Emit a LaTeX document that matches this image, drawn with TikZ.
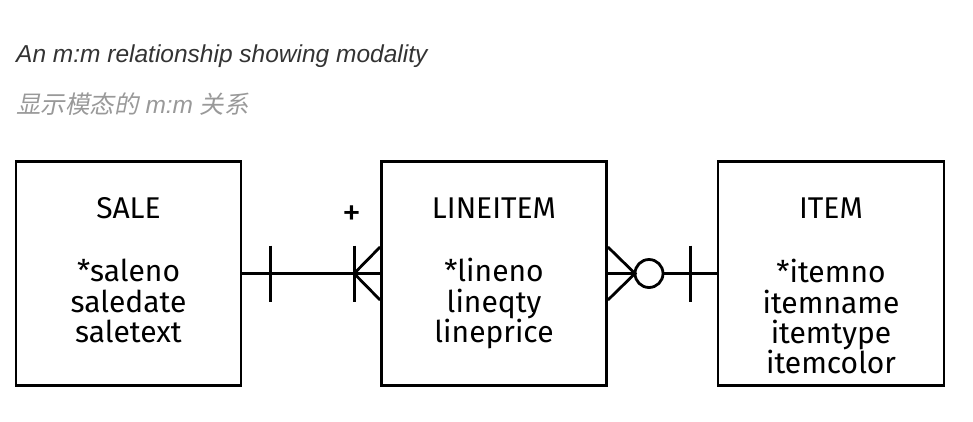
\documentclass[tikz,border=0pt]{standalone}
\usepackage{fontspec}
\setmainfont{Fira Sans}
\newfontfamily\titlefont{Liberation Sans}
\newfontfamily\cjkfont[FakeSlant=0.2]{Noto Sans CJK SC}
\definecolor{titlegray}{HTML}{333333}
\definecolor{subgray}{HTML}{999999}
\begin{document}
\begin{tikzpicture}[x=1pt,y=-1pt,
  entity/.style={draw, line width=2.8pt, minimum width=225pt, minimum height=224pt, inner sep=0pt},
  etitle/.style={anchor=base, font=\fontsize{30}{30}\selectfont, inner sep=0pt},
  attr/.style={anchor=base, font=\fontsize{30}{30}\selectfont, inner sep=0pt},
  conn/.style={line width=2.8pt},
]
\useasboundingbox (0,0) rectangle (973,421);
% captions
\node[anchor=base west, inner sep=0pt, text=titlegray, font=\titlefont\itshape\fontsize{24.5}{24.5}\selectfont] (cap1) at (16,62) {An m:m relationship showing modality};
\node[anchor=base west, inner sep=0pt, text=subgray, font=\fontsize{24.5}{24.5}\selectfont] (cap2) at (16,113) {{\cjkfont 显示模态的}{\titlefont\itshape\ m:m }{\cjkfont 关系}};
% entities
\node[entity] (sale) at (128.5,273.5) {};
\node[entity] (line) at (494,273.5) {};
\node[entity, minimum width=226pt] (item) at (831,273.5) {};
% texts
\node[etitle] (t1) at (128.5,218) {SALE};
\node[attr] (s1) at (128.5,281) {*saleno};
\node[attr] (s2) at (128.5,312) {saledate};
\node[attr] (s3) at (128.5,342) {saletext};
\node[etitle] (t2) at (494,218) {LINEITEM};
\node[attr] (l1) at (494,281) {*lineno};
\node[attr] (l2) at (494,312) {lineqty};
\node[attr] (l3) at (494,342) {lineprice};
\node[etitle] (t3) at (831,218) {ITEM};
\node[attr] (i1) at (831,282) {*itemno};
\node[attr] (i2) at (831,313) {itemname};
\node[attr] (i3) at (831,343) {itemtype};
\node[attr] (i4) at (831,373) {itemcolor};
% SALE -- LINEITEM
\draw[conn] (sale.east) -- (line.west);
\draw[conn] ([xshift=28pt,yshift=28pt]sale.east) -- ([xshift=28pt,yshift=-28pt]sale.east);
\coordinate (cf1) at ([xshift=-26pt]line.west);
\draw[conn] ([yshift=28pt]cf1) -- ([yshift=-28pt]cf1);
\draw[conn] ([yshift=26.5pt]line.west) -- (cf1) -- ([yshift=-26.5pt]line.west);
\node[inner sep=0pt, font=\fontsize{38}{38}\selectfont] (plus) at (352,216) {+};
% LINEITEM -- ITEM
\node[draw, circle, line width=2.8pt, minimum size=28pt, inner sep=0pt] (circ) at (649,273.5) {};
\coordinate (cf2) at (635,273.5);
\draw[conn] ([yshift=26.5pt]line.east) -- (cf2) -- ([yshift=-26.5pt]line.east);
\draw[conn] (line.east) -- (circ.west);
\draw[conn] (circ.east) -- (item.west);
\draw[conn] ([xshift=-26pt,yshift=28pt]item.west) -- ([xshift=-26pt,yshift=-28pt]item.west);
\end{tikzpicture}
\end{document}
